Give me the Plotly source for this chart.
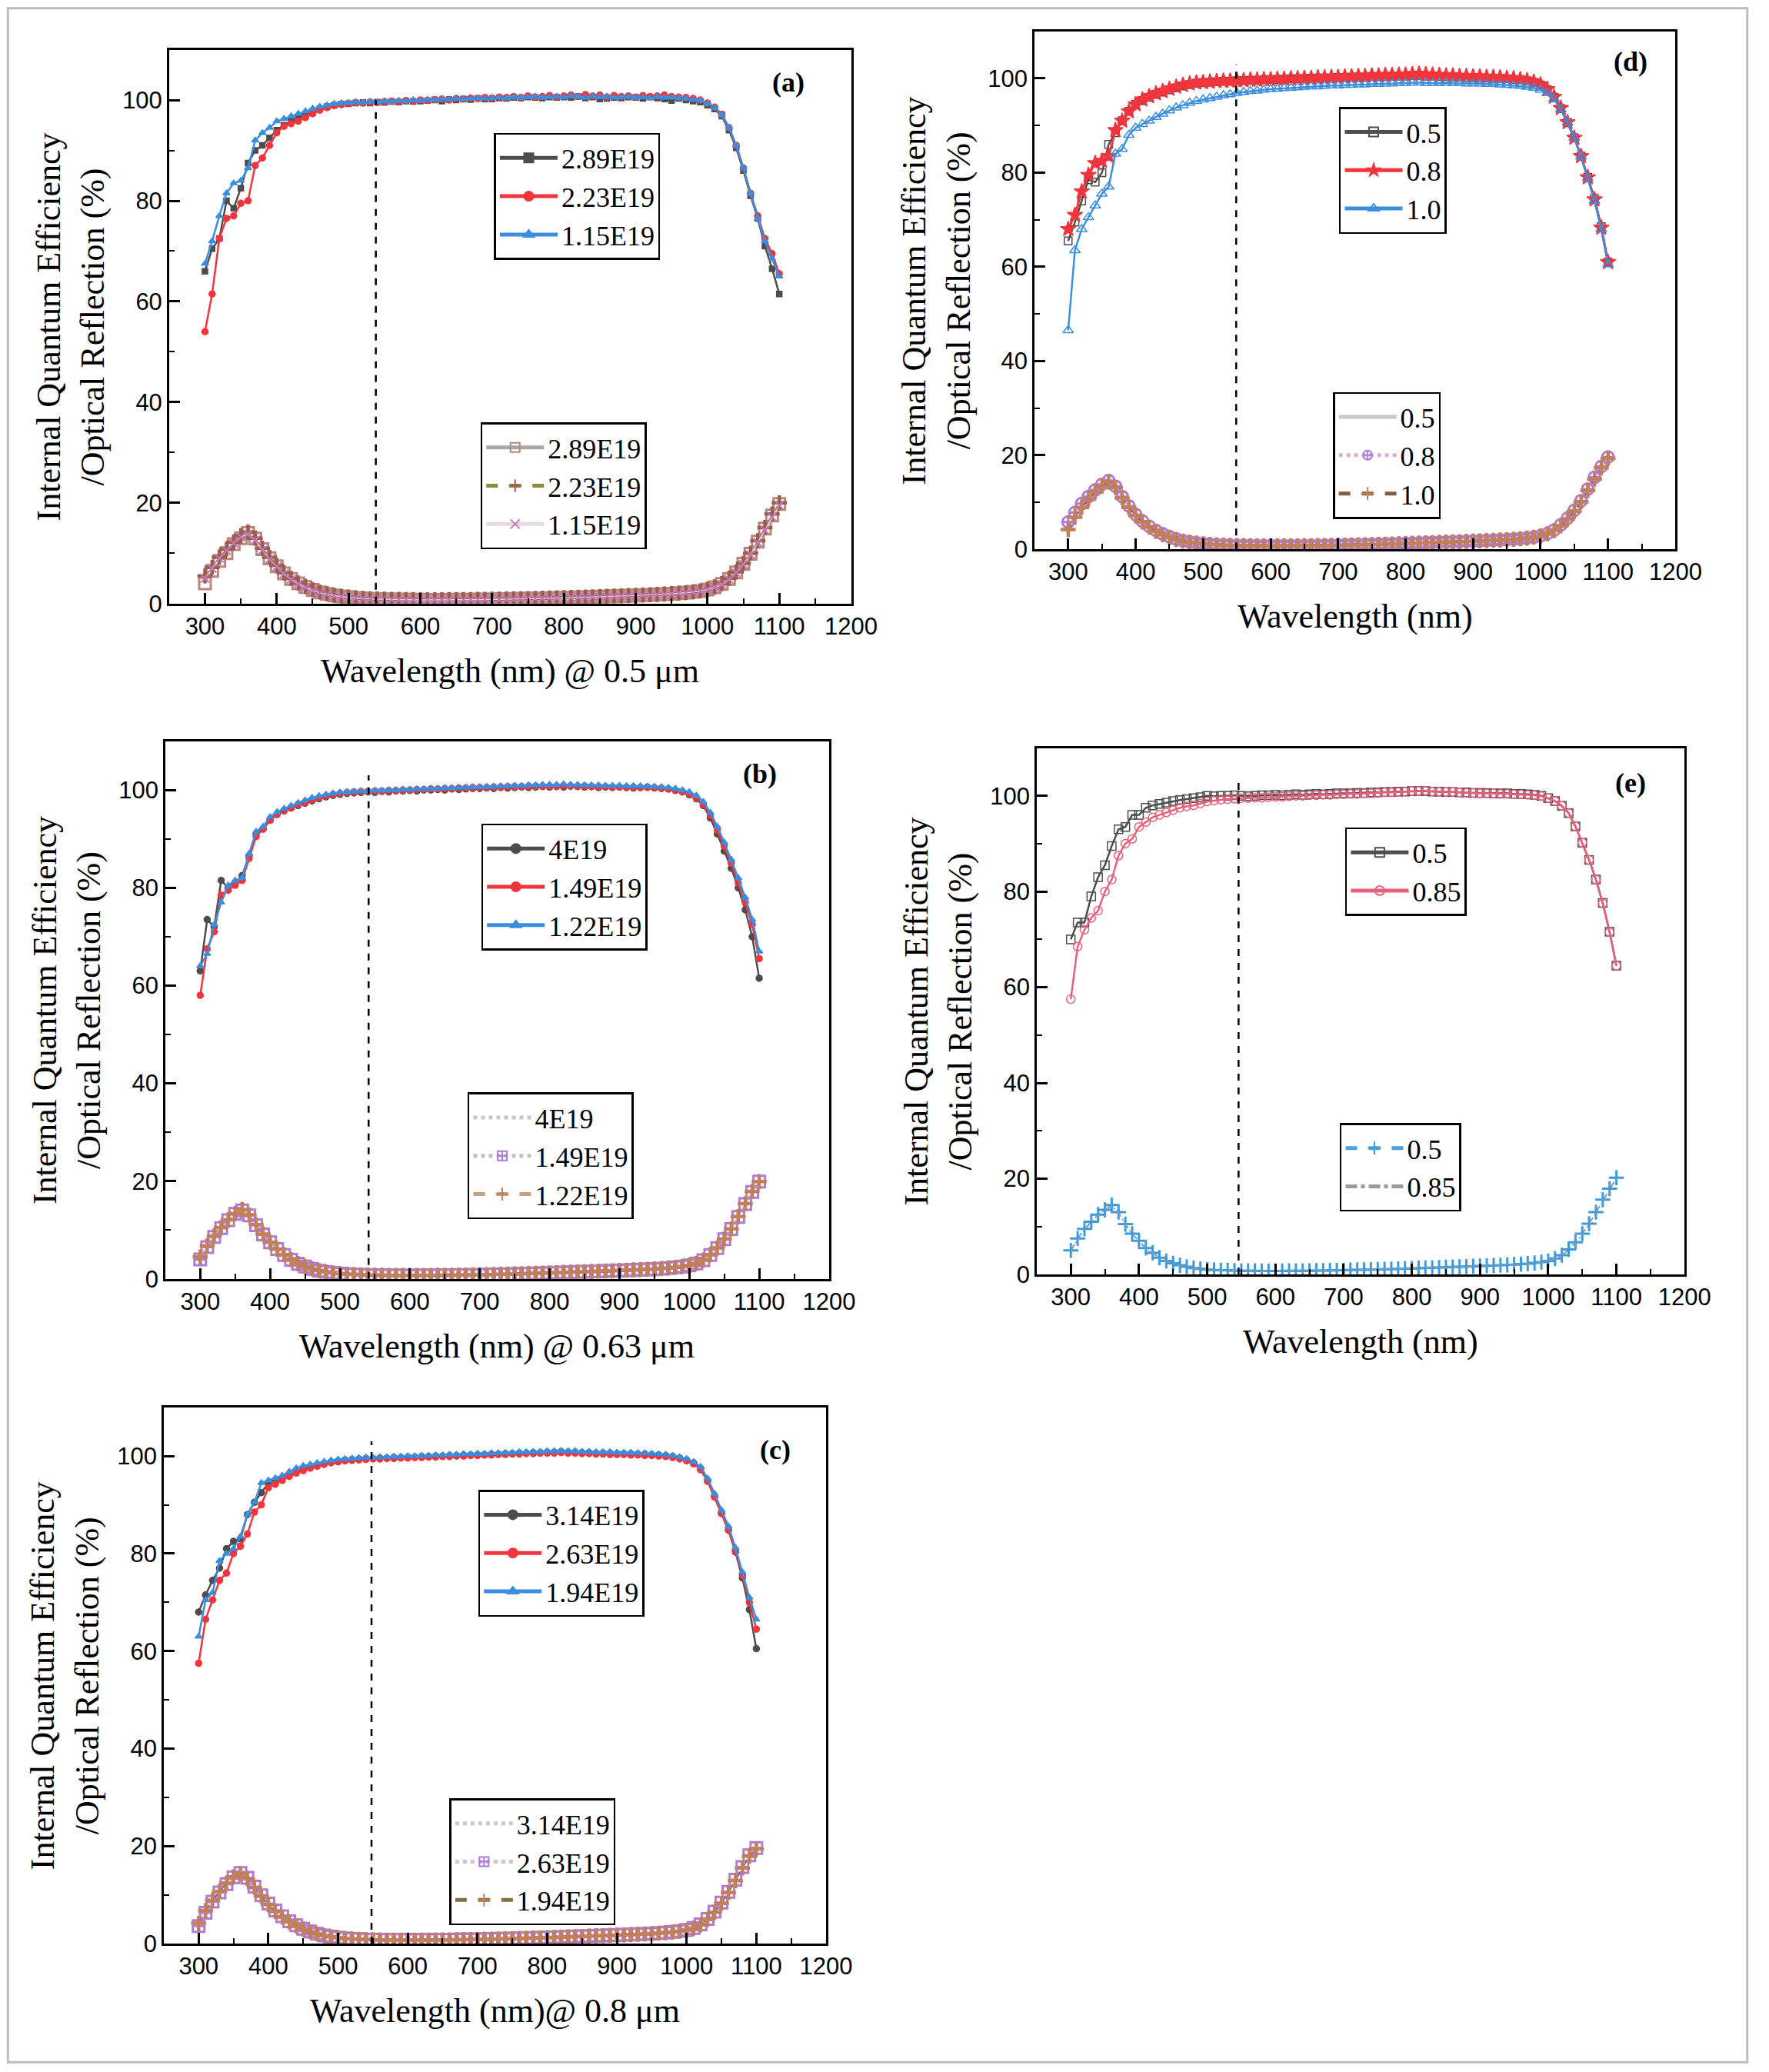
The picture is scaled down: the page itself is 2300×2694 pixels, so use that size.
import plotly.graph_objects as go

WAVELENGTH = list(range(300, 1101, 10))

# ---- panel (a) @ 0.5 um ----
IQE_A_289 = [66.0, 70.5, 72.5, 80.0, 78.5, 82.5, 87.5, 90.0, 91.0, 92.5,
             94.0, 95.0, 95.8, 96.5, 97.2, 97.8, 98.3, 98.7, 99.0, 99.2,
             99.3, 99.4, 99.5, 99.4, 99.6, 99.5, 99.7, 99.6, 99.8, 99.7,
             99.8, 99.9, 100.0, 99.8, 100.1, 100.0, 100.2, 100.1, 100.3, 100.2,
             100.2, 100.4, 100.3, 100.5, 100.4, 100.6, 100.5, 100.4, 100.6, 100.5,
             100.6, 100.5, 100.7, 100.4, 100.6, 100.2, 100.3, 100.5, 100.4, 100.6,
             100.5, 100.3, 100.6, 100.4, 100.2, 99.9, 100.3, 100.0, 99.8, 99.6,
             99.0, 98.2, 96.8, 94.0, 90.5, 86.0, 81.0, 76.5, 71.0, 66.5,
             61.5]
IQE_A_223 = [54.0, 61.5, 72.5, 76.5, 77.0, 79.5, 80.0, 87.0, 88.5, 91.0,
             93.5, 94.8, 95.3, 95.8, 96.5, 97.3, 98.0, 98.5, 98.9, 99.1,
             99.3, 99.5, 99.4, 99.6, 99.5, 99.7, 99.8, 99.7, 99.9, 99.8,
             100.0, 99.9, 100.1, 100.2, 100.0, 100.3, 100.2, 100.4, 100.3, 100.5,
             100.4, 100.6, 100.5, 100.7, 100.5, 100.8, 100.6, 100.7, 100.9, 100.6,
             100.8, 101.0, 100.7, 101.1, 100.8, 101.0, 100.6, 100.9, 100.7, 100.8,
             100.6, 100.9, 100.7, 100.8, 101.0, 100.7, 100.6, 100.5, 100.3, 100.0,
             99.4, 98.6, 97.2, 94.5, 91.0, 86.5, 81.5, 77.0, 72.5, 69.5,
             65.5]
IQE_A_115 = [67.5, 72.0, 77.0, 81.5, 83.5, 84.0, 86.5, 92.0, 93.5, 94.5,
             95.8, 96.3, 96.8, 97.3, 97.8, 98.3, 98.7, 99.0, 99.3, 99.4,
             99.5, 99.6, 99.5, 99.7, 99.6, 99.8, 99.7, 99.9, 99.8, 100.0,
             99.9, 100.1, 100.0, 100.2, 100.1, 100.3, 100.2, 100.3, 100.4, 100.3,
             100.4, 100.5, 100.4, 100.6, 100.5, 100.6, 100.7, 100.5, 100.6, 100.7,
             100.6, 100.8, 100.7, 100.5, 100.8, 100.6, 100.7, 100.5, 100.6, 100.7,
             100.5, 100.6, 100.4, 100.7, 100.5, 100.6, 100.4, 100.3, 100.1, 99.9,
             99.3, 98.5, 97.0, 94.5, 91.0, 86.5, 81.5, 76.5, 72.0, 68.5,
             65.0]
REF_A_289 = [4.0, 6.5, 8.5, 10.0, 11.8, 13.0, 14.0, 12.9, 10.8, 9.0,
             7.4, 6.0, 4.9, 4.0, 3.3, 2.7, 2.2, 1.9, 1.6, 1.4,
             1.25, 1.12, 1.02, 0.95, 0.9, 0.85, 0.82, 0.8, 0.78, 0.76,
             0.75, 0.74, 0.74, 0.74, 0.75, 0.76, 0.77, 0.78, 0.8, 0.82,
             0.84, 0.86, 0.89, 0.92, 0.95, 0.98, 1.01, 1.05, 1.08, 1.12,
             1.15, 1.2, 1.24, 1.28, 1.33, 1.38, 1.42, 1.47, 1.52, 1.57,
             1.62, 1.68, 1.74, 1.8, 1.87, 1.95, 2.05, 2.17, 2.32, 2.5,
             2.8, 3.25, 3.9, 4.9, 6.2, 7.9, 9.9, 12.3, 14.9, 17.5,
             19.8]
REF_A_223 = [5.5, 7.2, 9.2, 10.8, 12.2, 13.5, 14.2, 13.0, 11.0, 9.2,
             7.6, 6.1, 5.0, 4.1, 3.4, 2.8, 2.3, 1.95, 1.65, 1.45,
             1.28, 1.14, 1.04, 0.97, 0.92, 0.87, 0.84, 0.82, 0.8, 0.78,
             0.77, 0.76, 0.76, 0.76, 0.77, 0.78, 0.79, 0.8, 0.82, 0.84,
             0.86, 0.88, 0.91, 0.94, 0.97, 1.0, 1.03, 1.07, 1.1, 1.14,
             1.17, 1.22, 1.26, 1.3, 1.35, 1.4, 1.44, 1.49, 1.54, 1.59,
             1.64, 1.7, 1.76, 1.82, 1.89, 1.97, 2.07, 2.19, 2.34, 2.52,
             2.85, 3.3, 4.0, 5.0, 6.3, 8.0, 10.0, 12.5, 15.1, 17.8,
             20.0]
REF_A_115 = [5.0, 7.0, 9.0, 10.5, 12.0, 13.2, 13.8, 12.6, 10.6, 8.8,
             7.3, 5.9, 4.8, 3.9, 3.2, 2.6, 2.15, 1.85, 1.58, 1.38,
             1.23, 1.1, 1.0, 0.93, 0.88, 0.83, 0.8, 0.78, 0.76, 0.74,
             0.73, 0.72, 0.72, 0.72, 0.73, 0.74, 0.75, 0.76, 0.78, 0.8,
             0.82, 0.84, 0.87, 0.9, 0.93, 0.96, 0.99, 1.03, 1.06, 1.1,
             1.13, 1.18, 1.22, 1.26, 1.31, 1.36, 1.4, 1.45, 1.5, 1.55,
             1.6, 1.66, 1.72, 1.78, 1.85, 1.93, 2.03, 2.15, 2.3, 2.48,
             2.75, 3.2, 3.8, 4.8, 6.1, 7.8, 9.7, 12.1, 14.6, 17.2,
             19.5]

# ---- panel (d) ----
IQE_D_05 = [65.5, 69.5, 74.0, 78.5, 78.0, 80.0, 86.0, 88.5, 91.0, 93.0,
            94.5, 95.3, 96.0, 96.6, 97.1, 97.6, 98.0, 98.4, 98.7, 99.0,
            99.1, 99.2, 99.3, 99.4, 99.4, 99.5, 99.5, 99.6, 99.6, 99.7,
            99.7, 99.8, 99.8, 99.9, 99.9, 100.0, 100.0, 100.1, 100.1, 100.1,
            100.2, 100.2, 100.3, 100.3, 100.3, 100.4, 100.4, 100.4, 100.5, 100.5,
            100.5, 100.6, 100.6, 100.5, 100.5, 100.4, 100.4, 100.3, 100.3, 100.2,
            100.2, 100.1, 100.1, 100.0, 100.0, 99.9, 99.8, 99.7, 99.5, 99.2,
            98.6, 97.6, 96.0, 93.6, 90.6, 87.4, 83.5, 79.0, 74.5, 68.5,
            61.0]
IQE_D_08 = [68.0, 71.0, 76.0, 79.5, 82.0, 82.5, 83.5, 89.0, 91.0, 93.0,
            94.5, 95.5, 96.2, 96.8, 97.3, 97.8, 98.2, 98.6, 98.9, 99.1,
            99.2, 99.3, 99.4, 99.5, 99.5, 99.6, 99.6, 99.7, 99.7, 99.8,
            99.8, 99.9, 99.9, 100.0, 100.0, 100.1, 100.1, 100.2, 100.2, 100.3,
            100.3, 100.4, 100.4, 100.5, 100.5, 100.6, 100.6, 100.7, 100.7, 100.8,
            100.8, 100.9, 101.0, 100.9, 100.8, 100.7, 100.6, 100.6, 100.5, 100.5,
            100.4, 100.4, 100.3, 100.3, 100.2, 100.1, 100.0, 99.8, 99.6, 99.3,
            98.7, 97.7, 96.1, 93.7, 90.7, 87.4, 83.5, 79.0, 74.3, 68.3,
            61.0]
IQE_D_10 = [46.5, 63.5, 68.0, 70.5, 73.0, 75.5, 77.0, 84.0, 85.0, 88.0,
            89.5, 90.3, 91.0, 91.8, 92.5, 93.2, 93.8, 94.3, 94.8, 95.2,
            95.5, 95.8, 96.1, 96.4, 96.6, 96.9, 97.1, 97.3, 97.4, 97.6,
            97.7, 97.8, 97.9, 98.0, 98.1, 98.2, 98.3, 98.3, 98.4, 98.5,
            98.5, 98.6, 98.6, 98.7, 98.7, 98.8, 98.8, 98.9, 98.9, 99.0,
            99.0, 99.1, 99.1, 99.0, 99.0, 99.0, 99.1, 99.0, 99.0, 98.9,
            98.9, 98.9, 98.8, 98.8, 98.7, 98.6, 98.5, 98.4, 98.2, 98.0,
            97.6, 96.9, 95.6, 93.4, 90.6, 87.4, 83.4, 78.8, 74.0, 68.0,
            60.5]
REF_D_05 = [5.0, 7.3, 9.3, 10.9, 12.4, 13.6, 14.4, 13.2, 11.0, 9.0,
            7.3, 5.9, 4.8, 3.9, 3.2, 2.6, 2.15, 1.8, 1.55, 1.35,
            1.2, 1.08, 0.98, 0.92, 0.87, 0.83, 0.8, 0.78, 0.76, 0.75,
            0.74, 0.74, 0.74, 0.75, 0.76, 0.77, 0.79, 0.81, 0.83, 0.85,
            0.88, 0.91, 0.94, 0.97, 1.0, 1.04, 1.08, 1.12, 1.16, 1.2,
            1.25, 1.3, 1.35, 1.4, 1.45, 1.5, 1.55, 1.6, 1.65, 1.7,
            1.75, 1.8, 1.86, 1.92, 1.99, 2.06, 2.15, 2.26, 2.4, 2.58,
            2.85, 3.3, 4.0, 5.1, 6.5, 8.2, 10.2, 12.6, 15.0, 17.4,
            19.5]
REF_D_08 = [5.8, 7.8, 9.7, 11.2, 12.6, 13.8, 14.6, 13.4, 11.2, 9.2,
            7.4, 6.0, 4.9, 4.0, 3.3, 2.7, 2.2, 1.85, 1.58, 1.38,
            1.22, 1.1, 1.0, 0.94, 0.89, 0.85, 0.82, 0.8, 0.78, 0.77,
            0.76, 0.76, 0.76, 0.77, 0.78, 0.79, 0.81, 0.83, 0.85, 0.87,
            0.9, 0.93, 0.96, 0.99, 1.02, 1.06, 1.1, 1.14, 1.18, 1.22,
            1.27, 1.32, 1.37, 1.42, 1.47, 1.52, 1.57, 1.62, 1.67, 1.72,
            1.77, 1.82, 1.88, 1.94, 2.01, 2.08, 2.17, 2.28, 2.42, 2.6,
            2.9, 3.35, 4.1, 5.2, 6.6, 8.3, 10.3, 12.8, 15.3, 17.6,
            19.6]
REF_D_10 = [4.2, 6.8, 8.9, 10.6, 12.2, 13.4, 14.3, 13.1, 10.9, 8.9,
            7.2, 5.8, 4.7, 3.8, 3.1, 2.55, 2.1, 1.76, 1.52, 1.33,
            1.18, 1.06, 0.97, 0.91, 0.86, 0.82, 0.79, 0.77, 0.75, 0.74,
            0.73, 0.73, 0.73, 0.74, 0.75, 0.76, 0.78, 0.8, 0.82, 0.84,
            0.87, 0.9, 0.93, 0.96, 0.99, 1.03, 1.07, 1.11, 1.15, 1.19,
            1.24, 1.29, 1.34, 1.39, 1.44, 1.49, 1.54, 1.59, 1.64, 1.69,
            1.74, 1.79, 1.85, 1.91, 1.98, 2.05, 2.14, 2.25, 2.39, 2.57,
            2.83, 3.28, 3.95, 5.0, 6.4, 8.1, 10.1, 12.5, 14.9, 17.3,
            19.3]

# ---- panel (b) @ 0.63 um ----
IQE_B_40 = [63.0, 73.5, 72.0, 81.5, 80.0, 81.0, 82.5, 86.5, 91.0, 92.0,
            94.0, 95.0, 95.7, 96.3, 96.8, 97.3, 97.8, 98.2, 98.6, 98.9,
            99.1, 99.3, 99.4, 99.5, 99.6, 99.5, 99.7, 99.6, 99.8, 99.8,
            99.9, 99.8, 100.0, 100.0, 100.1, 100.0, 100.2, 100.1, 100.2, 100.3,
            100.3, 100.4, 100.3, 100.5, 100.4, 100.5, 100.6, 100.5, 100.6, 100.7,
            100.6, 100.7, 100.6, 100.8, 100.7, 100.6, 100.7, 100.5, 100.6, 100.5,
            100.6, 100.5, 100.4, 100.5, 100.6, 100.4, 100.3, 100.2, 99.9, 99.6,
            99.0, 98.2, 96.8, 94.3, 91.0, 87.5, 84.0, 80.0, 75.5, 70.0,
            61.5]
IQE_B_149 = [58.0, 67.5, 71.0, 78.5, 79.5, 80.5, 81.5, 86.0, 90.5, 92.0,
             93.8, 95.0, 95.8, 96.4, 97.0, 97.5, 98.0, 98.4, 98.8, 99.1,
             99.3, 99.5, 99.6, 99.7, 99.7, 99.8, 99.8, 99.9, 99.9, 100.0,
             100.0, 100.1, 100.1, 100.2, 100.2, 100.3, 100.3, 100.4, 100.4, 100.5,
             100.5, 100.5, 100.6, 100.6, 100.7, 100.7, 100.7, 100.8, 100.8, 100.8,
             100.8, 100.8, 100.9, 100.8, 100.8, 100.8, 100.7, 100.7, 100.7, 100.6,
             100.6, 100.6, 100.6, 100.5, 100.5, 100.5, 100.4, 100.2, 100.0, 99.7,
             99.2, 98.4, 97.0, 94.8, 91.8, 88.5, 85.0, 81.0, 77.0, 72.5,
             65.5]
IQE_B_122 = [64.0, 66.5, 72.5, 77.0, 80.5, 81.5, 82.0, 87.0, 91.5, 92.5,
             94.5, 95.5, 96.2, 96.8, 97.4, 97.9, 98.4, 98.8, 99.1, 99.3,
             99.5, 99.6, 99.7, 99.8, 99.8, 99.9, 99.9, 100.0, 100.0, 100.1,
             100.1, 100.2, 100.2, 100.3, 100.3, 100.4, 100.4, 100.5, 100.5, 100.6,
             100.6, 100.7, 100.7, 100.8, 100.8, 100.9, 100.9, 101.0, 101.0, 101.1,
             101.1, 101.1, 101.2, 101.1, 101.1, 101.0, 101.0, 101.0, 100.9, 100.9,
             100.9, 100.8, 100.8, 100.8, 100.7, 100.7, 100.6, 100.5, 100.3, 100.0,
             99.6, 98.9, 97.6, 95.4, 92.5, 89.3, 85.8, 82.0, 78.0, 73.5,
             67.0]
REF_B_40 = [4.8, 7.0, 9.0, 10.7, 12.2, 13.4, 14.1, 13.2, 11.2, 9.3,
            7.6, 6.2, 5.0, 4.0, 3.2, 2.6, 2.1, 1.72, 1.45, 1.25,
            1.1, 1.0, 0.92, 0.86, 0.82, 0.78, 0.76, 0.74, 0.73, 0.72,
            0.72, 0.72, 0.73, 0.74, 0.75, 0.76, 0.78, 0.8, 0.82, 0.84,
            0.87, 0.9, 0.93, 0.96, 0.99, 1.03, 1.07, 1.11, 1.15, 1.19,
            1.24, 1.29, 1.34, 1.39, 1.44, 1.49, 1.54, 1.59, 1.64, 1.69,
            1.74, 1.79, 1.85, 1.91, 1.98, 2.05, 2.14, 2.25, 2.38, 2.55,
            2.8, 3.2, 3.9, 5.0, 6.4, 8.2, 10.3, 12.8, 15.5, 17.9,
            20.0]
REF_B_149 = [4.0, 6.5, 8.6, 10.4, 12.0, 13.3, 14.0, 13.0, 11.0, 9.1,
             7.5, 6.1, 4.9, 3.9, 3.1, 2.55, 2.05, 1.68, 1.42, 1.22,
             1.08, 0.98, 0.9, 0.84, 0.8, 0.76, 0.74, 0.72, 0.71, 0.7,
             0.7, 0.7, 0.71, 0.72, 0.73, 0.74, 0.76, 0.78, 0.8, 0.82,
             0.85, 0.88, 0.91, 0.94, 0.97, 1.01, 1.05, 1.09, 1.13, 1.17,
             1.22, 1.27, 1.32, 1.37, 1.42, 1.47, 1.52, 1.57, 1.62, 1.67,
             1.72, 1.77, 1.83, 1.89, 1.96, 2.03, 2.12, 2.23, 2.36, 2.53,
             2.78, 3.15, 3.85, 4.9, 6.3, 8.1, 10.2, 12.7, 15.3, 17.8,
             19.9]
REF_B_122 = [4.5, 6.8, 8.8, 10.5, 12.1, 13.4, 14.2, 13.1, 11.1, 9.2,
             7.5, 6.1, 4.95, 3.95, 3.15, 2.58, 2.08, 1.7, 1.44, 1.24,
             1.09, 0.99, 0.91, 0.85, 0.81, 0.77, 0.75, 0.73, 0.72, 0.71,
             0.71, 0.71, 0.72, 0.73, 0.74, 0.75, 0.77, 0.79, 0.81, 0.83,
             0.86, 0.89, 0.92, 0.95, 0.98, 1.02, 1.06, 1.1, 1.14, 1.18,
             1.23, 1.28, 1.33, 1.38, 1.43, 1.48, 1.53, 1.58, 1.63, 1.68,
             1.73, 1.78, 1.84, 1.9, 1.97, 2.04, 2.13, 2.24, 2.37, 2.54,
             2.79, 3.18, 3.88, 4.95, 6.35, 8.15, 10.25, 12.75, 15.4, 17.9,
             19.9]

# ---- panel (e) ----
IQE_E_05 = [70.0, 73.5, 73.5, 79.0, 83.0, 85.5, 89.5, 93.0, 93.5, 96.0,
            96.0, 97.5, 98.0, 98.3, 98.6, 98.9, 99.1, 99.3, 99.5, 99.7,
            100.0, 99.9, 100.0, 100.0, 100.1, 100.0, 99.9, 100.0, 100.1, 100.1,
            100.2, 100.1, 100.2, 100.3, 100.2, 100.3, 100.4, 100.3, 100.4, 100.5,
            100.5, 100.5, 100.6, 100.6, 100.7, 100.7, 100.8, 100.8, 100.9, 100.9,
            101.0, 101.0, 101.0, 100.9, 100.9, 100.8, 100.8, 100.7, 100.7, 100.6,
            100.6, 100.6, 100.5, 100.5, 100.5, 100.4, 100.4, 100.3, 100.2, 100.0,
            99.5, 98.9, 97.9, 96.4, 93.6, 90.2, 86.6, 82.5, 77.6, 71.6,
            64.5]
IQE_E_085 = [57.5, 68.5, 72.0, 74.5, 76.0, 80.0, 82.5, 87.5, 90.0, 91.0,
             93.5, 94.5, 95.5, 96.0, 96.5, 97.0, 97.5, 97.8, 98.0, 98.4,
             98.8, 99.0, 99.2, 99.3, 99.4, 99.5, 99.5, 99.6, 99.6, 99.7,
             99.8, 99.8, 99.9, 100.0, 100.0, 100.1, 100.1, 100.2, 100.2, 100.3,
             100.3, 100.4, 100.4, 100.5, 100.5, 100.6, 100.7, 100.7, 100.8, 100.9,
             101.0, 101.0, 101.1, 100.9, 100.9, 100.8, 100.8, 100.7, 100.6, 100.6,
             100.5, 100.5, 100.5, 100.4, 100.4, 100.3, 100.3, 100.2, 100.1, 99.9,
             99.5, 98.9, 97.9, 96.4, 93.6, 90.2, 86.6, 82.5, 77.5, 71.5,
             64.5]
REF_E_05 = [5.0, 7.5, 9.5, 11.0, 12.5, 13.5, 14.5, 13.0, 10.5, 8.5,
            7.0, 5.5, 4.5, 3.5, 2.8, 2.3, 1.9, 1.6, 1.3, 1.15,
            1.0, 0.92, 0.86, 0.82, 0.78, 0.76, 0.74, 0.73, 0.72, 0.72,
            0.72, 0.72, 0.73, 0.74, 0.75, 0.76, 0.78, 0.8, 0.82, 0.84,
            0.87, 0.9, 0.93, 0.96, 0.99, 1.03, 1.07, 1.11, 1.15, 1.19,
            1.24, 1.29, 1.34, 1.39, 1.44, 1.49, 1.54, 1.59, 1.64, 1.69,
            1.74, 1.79, 1.85, 1.91, 1.98, 2.05, 2.14, 2.25, 2.38, 2.55,
            2.8, 3.3, 4.0, 5.2, 6.7, 8.5, 10.6, 13.0, 15.6, 17.9,
            20.2]
REF_E_085 = [4.8, 7.3, 9.3, 10.9, 12.4, 13.4, 14.3, 12.9, 10.4, 8.4,
             6.9, 5.4, 4.4, 3.45, 2.75, 2.25, 1.86, 1.57, 1.28, 1.13,
             0.98, 0.9, 0.84, 0.8, 0.77, 0.75, 0.73, 0.72, 0.71, 0.71,
             0.71, 0.71, 0.72, 0.73, 0.74, 0.75, 0.77, 0.79, 0.81, 0.83,
             0.86, 0.89, 0.92, 0.95, 0.98, 1.02, 1.06, 1.1, 1.14, 1.18,
             1.23, 1.28, 1.33, 1.38, 1.43, 1.48, 1.53, 1.58, 1.63, 1.68,
             1.73, 1.78, 1.84, 1.9, 1.97, 2.04, 2.13, 2.24, 2.37, 2.54,
             2.78, 3.25, 3.95, 5.1, 6.6, 8.4, 10.5, 12.9, 15.4, 17.7,
             20.0]

# ---- panel (c) @ 0.8 um ----
IQE_C_314 = [68.0, 71.5, 74.5, 77.0, 81.0, 82.5, 83.0, 88.0, 90.5, 92.5,
             94.5, 95.0, 95.5, 96.2, 96.8, 97.3, 97.7, 98.1, 98.5, 98.8,
             99.0, 99.2, 99.3, 99.4, 99.5, 99.5, 99.6, 99.6, 99.7, 99.7,
             99.8, 99.8, 99.9, 99.9, 100.0, 100.0, 100.1, 100.1, 100.2, 100.2,
             100.3, 100.3, 100.4, 100.4, 100.5, 100.5, 100.6, 100.6, 100.7, 100.7,
             100.8, 100.8, 100.9, 100.8, 100.8, 100.7, 100.7, 100.6, 100.6, 100.6,
             100.5, 100.5, 100.5, 100.4, 100.4, 100.3, 100.2, 100.1, 99.9, 99.6,
             99.2, 98.6, 97.5, 95.0, 91.8, 88.3, 84.8, 80.3, 75.0, 68.5,
             60.5]
IQE_C_263 = [57.5, 66.5, 70.5, 74.5, 76.0, 80.0, 81.5, 84.0, 88.5, 90.0,
             93.5, 94.2, 95.0, 95.8, 96.5, 97.0, 97.5, 97.9, 98.3, 98.6,
             98.8, 99.0, 99.1, 99.2, 99.3, 99.4, 99.4, 99.5, 99.5, 99.6,
             99.6, 99.7, 99.7, 99.8, 99.8, 99.9, 99.9, 100.0, 100.0, 100.1,
             100.1, 100.2, 100.2, 100.3, 100.3, 100.4, 100.4, 100.5, 100.5, 100.6,
             100.6, 100.6, 100.7, 100.6, 100.6, 100.5, 100.5, 100.4, 100.4, 100.3,
             100.3, 100.3, 100.2, 100.2, 100.1, 100.1, 100.0, 99.9, 99.7, 99.4,
             99.0, 98.4, 97.2, 94.8, 91.6, 88.2, 84.8, 80.5, 75.5, 70.0,
             64.5]
IQE_C_194 = [63.0, 70.5, 72.0, 78.5, 80.0, 81.0, 83.5, 88.0, 90.5, 94.5,
             95.0, 95.5, 96.0, 96.8, 97.5, 98.0, 98.3, 98.6, 98.9, 99.1,
             99.3, 99.4, 99.5, 99.6, 99.7, 99.7, 99.8, 99.8, 99.9, 99.9,
             100.0, 100.0, 100.1, 100.1, 100.2, 100.2, 100.3, 100.3, 100.4, 100.4,
             100.5, 100.5, 100.6, 100.6, 100.7, 100.7, 100.8, 100.8, 100.9, 100.9,
             101.0, 101.0, 101.1, 101.0, 101.0, 100.9, 100.9, 100.8, 100.8, 100.8,
             100.7, 100.7, 100.7, 100.6, 100.6, 100.5, 100.4, 100.3, 100.1, 99.8,
             99.4, 98.8, 97.8, 95.4, 92.3, 88.9, 85.6, 81.2, 76.2, 71.0,
             66.5]
REF_C_314 = [4.8, 7.1, 9.2, 10.9, 12.5, 13.8, 14.4, 13.4, 11.6, 9.8,
             8.1, 6.7, 5.5, 4.5, 3.7, 3.0, 2.45, 2.0, 1.65, 1.4,
             1.2, 1.05, 0.95, 0.88, 0.83, 0.79, 0.76, 0.74, 0.73, 0.72,
             0.72, 0.72, 0.73, 0.74, 0.75, 0.76, 0.78, 0.8, 0.82, 0.84,
             0.87, 0.9, 0.93, 0.96, 0.99, 1.03, 1.07, 1.11, 1.15, 1.19,
             1.24, 1.29, 1.34, 1.39, 1.44, 1.49, 1.54, 1.59, 1.64, 1.69,
             1.74, 1.79, 1.85, 1.91, 1.98, 2.05, 2.14, 2.25, 2.38, 2.55,
             2.8, 3.2, 3.9, 5.0, 6.5, 8.3, 10.5, 13.0, 15.6, 18.0,
             19.8]
REF_C_263 = [3.6, 6.3, 8.6, 10.5, 12.2, 13.6, 14.5, 13.5, 11.7, 9.9,
             8.2, 6.8, 5.6, 4.6, 3.75, 3.05, 2.5, 2.04, 1.68, 1.42,
             1.22, 1.07, 0.97, 0.9, 0.85, 0.81, 0.78, 0.76, 0.75, 0.74,
             0.74, 0.74, 0.75, 0.76, 0.77, 0.78, 0.8, 0.82, 0.84, 0.86,
             0.89, 0.92, 0.95, 0.98, 1.01, 1.05, 1.09, 1.13, 1.17, 1.21,
             1.26, 1.31, 1.36, 1.41, 1.46, 1.51, 1.56, 1.61, 1.66, 1.71,
             1.76, 1.81, 1.87, 1.93, 2.0, 2.07, 2.16, 2.27, 2.4, 2.57,
             2.82, 3.22, 3.95, 5.05, 6.55, 8.4, 10.6, 13.1, 15.7, 18.1,
             19.6]
REF_C_194 = [4.2, 6.8, 8.9, 10.7, 12.4, 13.7, 14.3, 13.3, 11.5, 9.7,
             8.0, 6.6, 5.45, 4.45, 3.65, 2.98, 2.42, 1.98, 1.63, 1.38,
             1.19, 1.04, 0.94, 0.87, 0.82, 0.78, 0.75, 0.73, 0.72, 0.71,
             0.71, 0.71, 0.72, 0.73, 0.74, 0.75, 0.77, 0.79, 0.81, 0.83,
             0.86, 0.89, 0.92, 0.95, 0.98, 1.02, 1.06, 1.1, 1.14, 1.18,
             1.23, 1.28, 1.33, 1.38, 1.43, 1.48, 1.53, 1.58, 1.63, 1.68,
             1.73, 1.78, 1.84, 1.9, 1.97, 2.04, 2.13, 2.24, 2.37, 2.54,
             2.78, 3.18, 3.85, 4.95, 6.45, 8.25, 10.45, 12.9, 15.5, 17.9,
             19.4]

DIVIDER = {"a": 538, "d": 549, "b": 541, "e": 546, "c": 548}

W, H = 2300, 2694
SERIF = "Liberation Serif"
SANS = "Liberation Sans"

# pixel boxes of each plot area: left, top, right, bottom
BOXES = {
    "a": (215, 57, 1115, 782),
    "d": (1357, 33, 2203, 711),
    "b": (210, 962, 1086, 1666),
    "e": (1360, 971, 2215, 1660),
    "c": (208, 1834, 1082, 2536),
}
XTITLES = {
    "a": "Wavelength (nm) @ 0.5 μm",
    "d": "Wavelength (nm)",
    "b": "Wavelength (nm) @ 0.63 μm",
    "e": "Wavelength (nm)",
    "c": "Wavelength (nm)@ 0.8 μm",
}
# legend boxes: top-left pixel
LEGENDS = {
    "a": [(644, 166), (626, 545)],
    "d": [(1759, 132), (1751, 505)],
    "b": [(627, 1070), (609, 1422)],
    "e": [(1767, 1075), (1760, 1462)],
    "c": [(623, 1942), (585, 2346)],
}
LABEL_POS = {"a": (1032, 100), "d": (2144, 72), "b": (995, 1005),
             "e": (2144, 1017), "c": (1015, 1890)}

fig = go.Figure()
layout = dict(width=W, height=H, margin=dict(l=0, r=0, t=0, b=0),
              paper_bgcolor="white", plot_bgcolor="white", showlegend=True)
annotations = []
shapes = []

order = ["a", "d", "b", "e", "c"]
for i, key in enumerate(order):
    n = "" if i == 0 else str(i + 1)
    l, t, r, b = BOXES[key]
    ax = dict(domain=[l / W, r / W], range=[250, 1200], tickmode="linear", tick0=300, dtick=100,
              ticks="inside", ticklen=14, tickwidth=2.5, tickcolor="black",
              minor=dict(ticks="inside", ticklen=7, tickwidth=2, tickcolor="black", dtick=50, tick0=250),
              showline=True, linewidth=2.5, linecolor="black", mirror=True, showgrid=False, zeroline=False,
              tickfont=dict(family=SANS, size=31, color="black"), anchor="y" + n)
    ay = dict(domain=[1 - b / H, 1 - t / H], range=[0, 110], tickmode="linear", tick0=0, dtick=20,
              ticks="inside", ticklen=14, tickwidth=2.5, tickcolor="black",
              minor=dict(ticks="inside", ticklen=7, tickwidth=2, tickcolor="black", dtick=10),
              showline=True, linewidth=2.5, linecolor="black", mirror=True, showgrid=False, zeroline=False,
              tickfont=dict(family=SANS, size=31, color="black"), anchor="x" + n)
    layout["xaxis" + n] = ax
    layout["yaxis" + n] = ay

    for j, (lx, ly) in enumerate(LEGENDS[key]):
        lname = "legend" + ("" if (i == 0 and j == 0) else str(2 * i + j + 1))
        layout[lname] = dict(x=lx / W, y=1 - ly / H, xanchor="left", yanchor="top",
                             bgcolor="white", bordercolor="black", borderwidth=2.5,
                             font=dict(family=SERIF, size=36, color="black"),
                             itemwidth=75, tracegroupgap=0, itemsizing="constant")

    annotations.append(dict(text=XTITLES[key], xref="paper", yref="paper",
                            x=(l + r) / 2 / W, y=1 - (b + 88) / H, showarrow=False,
                            xanchor="center", yanchor="middle",
                            font=dict(family=SERIF, size=44, color="black")))
    annotations.append(dict(text="Internal Quantum Efficiency<br>/Optical Reflection (%)",
                            xref="paper", yref="paper", x=(l - 130) / W, y=1 - (t + b) / 2 / H,
                            textangle=-90, showarrow=False, xanchor="center", yanchor="middle",
                            font=dict(family=SERIF, size=44, color="black")))
    px_, py_ = LABEL_POS[key]
    annotations.append(dict(text="<b>(%s)</b>" % key, xref="paper", yref="paper",
                            x=px_ / W, y=1 - py_ / H, showarrow=False,
                            xanchor="center", yanchor="middle",
                            font=dict(family=SERIF, size=36, color="black")))
    shapes.append(dict(type="line", xref="x" + n, yref="y" + n, x0=DIVIDER[key], x1=DIVIDER[key],
                       y0=0, y1=100 if key == "a" else 103,
                       line=dict(color="black", width=2.5, dash="dash"), layer="above"))


def add(key_idx, leg, name, y, color, symbol, size, width=2, dash="solid", mcolor=None, mline=1.5):
    n = "" if key_idx == 0 else str(key_idx + 1)
    lname = "legend" + ("" if leg == 1 else str(leg))
    mcolor = mcolor or color
    marker = dict(symbol=symbol, size=size, color=mcolor, line=dict(color=mcolor, width=mline))
    fig.add_trace(go.Scatter(x=WAVELENGTH, y=y, name=name, mode="lines+markers" if symbol else "lines",
                             line=dict(color=color, width=width, dash=dash), marker=marker,
                             xaxis="x" + n, yaxis="y" + n, legend=lname))


GRAY = "#4d4d4d"
RED = "#f2343c"
BLUE = "#3a8ee0"
PURPLE = "#b07ad8"
ORANGE = "#c27f5c"

# (a)
add(0, 2, "2.89E19", REF_A_289, "#a8a8a8", "square-open", 15, 1.5, mcolor="#b8867c", mline=3)
add(0, 2, "2.23E19", REF_A_223, "#8a8a40", "cross-thin", 14, 1.5, dash="dash", mcolor="#9c5c4e", mline=4.5)
add(0, 2, "1.15E19", REF_A_115, "#e4dcdc", "x-thin", 11, 1.5, mcolor="#c478b8", mline=2)
add(0, 1, "2.89E19", IQE_A_289, GRAY, "square", 7, 2.5)
add(0, 1, "2.23E19", IQE_A_223, RED, "circle", 8, 2.5)
add(0, 1, "1.15E19", IQE_A_115, BLUE, "triangle-up", 8, 2.5)

# (d)
add(1, 4, "0.5", REF_D_05, "#c8c8c8", None, 0, 2)
add(1, 4, "0.8", REF_D_08, "#d8b0d8", "circle-cross-open", 15, 1.5, dash="dot", mcolor=PURPLE, mline=3)
add(1, 4, "1.0", REF_D_10, "#806040", "cross-thin", 14, 1.5, dash="dash", mcolor=ORANGE, mline=4.5)
add(1, 3, "0.5", IQE_D_05, GRAY, "square-open", 10, 2.5)
add(1, 3, "0.8", IQE_D_08, RED, "star", 15, 3)
add(1, 3, "1.0", IQE_D_10, BLUE, "triangle-up-open", 12, 2.5)

# (b)
add(2, 6, "4E19", REF_B_40, "#c8c8c8", None, 0, 2, dash="dot")
add(2, 6, "1.49E19", REF_B_149, "#c0c0c0", "square-cross-open", 15, 1.5, dash="dot", mcolor=PURPLE, mline=3)
add(2, 6, "1.22E19", REF_B_122, "#c8a080", "cross-thin", 14, 1.5, dash="dash", mcolor=ORANGE, mline=4.5)
add(2, 5, "4E19", IQE_B_40, GRAY, "circle", 8, 2.5)
add(2, 5, "1.49E19", IQE_B_149, RED, "circle", 8, 2.5)
add(2, 5, "1.22E19", IQE_B_122, BLUE, "triangle-up", 8, 2.5)

# (e)
add(3, 8, "0.5", REF_E_05, "#4aa0e0", "cross-thin", 14, 1.5, dash="dash", mcolor="#3c9ae0", mline=3)
add(3, 8, "0.85", REF_E_085, "#9a9a9a", None, 0, 1.5, dash="dashdot")
add(3, 7, "0.5", IQE_E_05, GRAY, "square-open", 11, 2.5)
add(3, 7, "0.85", IQE_E_085, "#e8607a", "circle-open", 11, 2.5)

# (c)
add(4, 10, "3.14E19", REF_C_314, "#c8c8c8", None, 0, 2, dash="dot")
add(4, 10, "2.63E19", REF_C_263, "#d0c0d0", "square-cross-open", 15, 1.5, dash="dot", mcolor=PURPLE, mline=3)
add(4, 10, "1.94E19", REF_C_194, "#807040", "cross-thin", 14, 1.5, dash="dash", mcolor=ORANGE, mline=4.5)
add(4, 9, "3.14E19", IQE_C_314, GRAY, "circle", 8, 2.5)
add(4, 9, "2.63E19", IQE_C_263, RED, "circle", 8, 2.5)
add(4, 9, "1.94E19", IQE_C_194, BLUE, "triangle-up", 8, 2.5)

shapes.append(dict(type="rect", xref="paper", yref="paper", x0=0.001, x1=0.999, y0=0.001, y1=0.999,
                   line=dict(color="#bdbdbd", width=3), layer="below"))
layout["annotations"] = annotations
layout["shapes"] = shapes
fig.update_layout(**layout)
fig.write_html("out.html")
